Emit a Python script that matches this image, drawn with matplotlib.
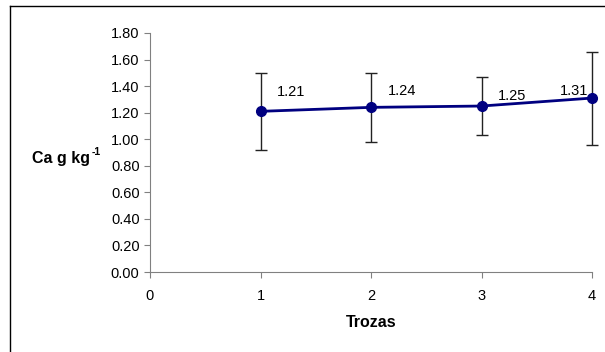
import numpy as np
import matplotlib.pyplot as plt
from matplotlib.lines import Line2D

trozas = [1, 2, 3, 4]
ca = [1.21, 1.24, 1.25, 1.31]
err = [0.29, 0.26, 0.22, 0.35]
labels = ['1.21', '1.24', '1.25', '1.31']

plt.rcParams['font.family'] = ['Liberation Sans', 'DejaVu Sans']

fig = plt.figure(figsize=(6.05, 3.52), dpi=100)
W, H = 605, 352
ax = fig.add_axes([150 / W, 1 - 272 / H, (592 - 150) / W, (272 - 33) / H])

eb = ax.errorbar(trozas, ca, yerr=err, fmt='none', ecolor='#222222', elinewidth=1,
                 capsize=4, capthick=1, zorder=2)
for art in eb.lines[1] + eb.lines[2]:
    art.set_clip_on(False)
ax.plot(trozas, ca, '-o', color='#000080', lw=2, ms=7, zorder=3, clip_on=False)

offsets = [(12, 9), (12, 7), (12, 2), (-23, 0)]
for x, y, lab, off in zip(trozas, ca, labels, offsets):
    ax.annotate(lab, (x, y), xytext=off, textcoords='offset points',
                fontsize=10.5, va='bottom', ha='left')

ax.set_xlim(0, 4)
ax.set_ylim(0, 1.8)
ax.set_xticks([0, 1, 2, 3, 4])
ax.set_yticks(np.arange(0, 1.81, 0.2))
ax.set_yticklabels(['%.2f' % v for v in np.arange(0, 1.81, 0.2)])
ax.tick_params(labelsize=10.5, color='#808080', length=4)
ax.tick_params(axis='x', pad=8)
for s in ['top', 'right']:
    ax.spines[s].set_visible(False)
for s in ['left', 'bottom']:
    ax.spines[s].set_color('#808080')

ax.set_xlabel('Trozas', fontsize=11.5, fontweight='bold', labelpad=9)
fig.text(32 / W, 1 - 158 / H, 'Ca g kg', fontsize=11.5, fontweight='bold',
         va='center', ha='left')
fig.text(92 / W, 1 - 152 / H, '-1', fontsize=7.5, fontweight='bold',
         va='center', ha='left')

# chart area border
fig.add_artist(Line2D([10 / W, 10 / W], [0, 1 - 6 / H], color='black', lw=1))
fig.add_artist(Line2D([10 / W, 1], [1 - 6 / H, 1 - 6 / H], color='black', lw=1))

fig.savefig('out.png', dpi=100)
